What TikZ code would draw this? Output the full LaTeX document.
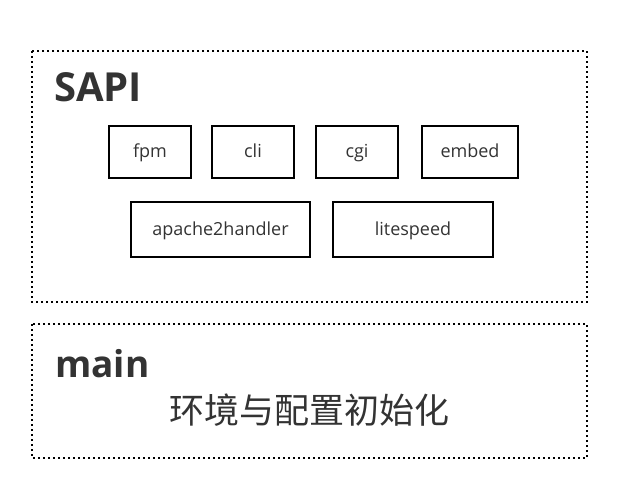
\documentclass[tikz,border=0pt]{standalone}
\usepackage{fontspec}
\setmainfont{Open Sans}
\newfontfamily\cjk{Noto Sans CJK SC}
\definecolor{inkgray}{HTML}{333333}
\begin{document}
\begin{tikzpicture}[x=1pt,y=-1pt,
    layer/.style={draw=black,line width=2.2pt,dash pattern=on 2pt off 3pt},
    sapibox/.style={draw=black,line width=1.6pt,inner sep=0pt,minimum height=52pt,
      text height=2.1ex,text depth=0pt,
      text=inkgray,font=\fontsize{18}{20}\selectfont},
    title/.style={anchor=base west,inner sep=0pt,text=inkgray,
      font=\fontsize{40}{44}\selectfont\bfseries}]
    \useasboundingbox (0,0) rectangle (634,486);

    \draw[layer] (32,51) rectangle (587,302); % the SAPI layer
    \draw[layer] (32,324) rectangle (587,458); % the main layer

    \node[title] (sapititle) at (54,102) {SAPI};
    \node[title,font=\fontsize{37}{40}\selectfont\bfseries] (maintitle) at (55,377) {main};

    % first row of SAPIs
    \node[sapibox,minimum width=82pt] (fpm)   at (150,152) {fpm};
    \node[sapibox,minimum width=82pt] (cli)   at (253,152) {cli};
    \node[sapibox,minimum width=82pt] (cgi)   at (357,152) {cgi};
    \node[sapibox,minimum width=96pt] (embed) at (470,152) {embed};

    % second row
    \node[sapibox,minimum width=179pt,minimum height=55pt] (apache) at (220.5,229.5) {apache2handler};
    \node[sapibox,minimum width=160pt,minimum height=55pt] (litespeed) at (413,229.5) {litespeed};

    \node[text=inkgray,font=\cjk\fontsize{35}{40}\selectfont] (init) at (309,410) {环境与配置初始化};
\end{tikzpicture}
\end{document}
